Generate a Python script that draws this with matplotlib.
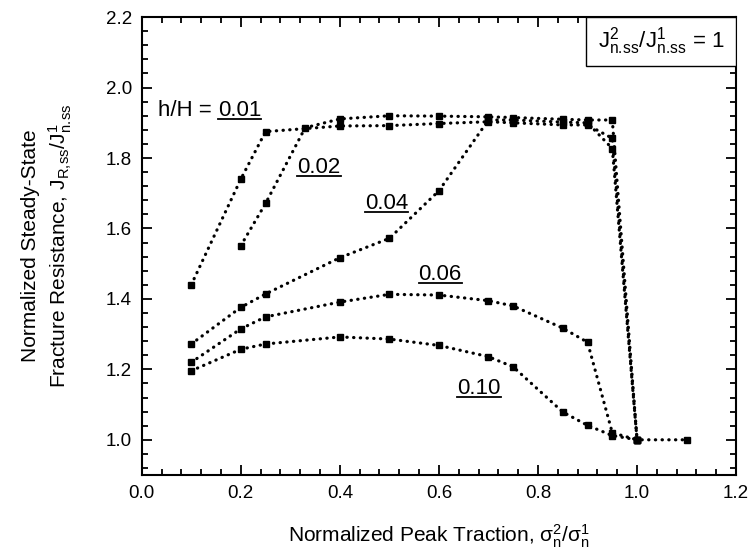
import numpy as np
import matplotlib
matplotlib.use("Agg")
import matplotlib.pyplot as plt
from matplotlib.patches import Rectangle
from matplotlib.lines import Line2D
from matplotlib.ticker import MultipleLocator

plt.rcParams['font.family'] = ['Liberation Sans', 'DejaVu Sans']
plt.rcParams['mathtext.fontset'] = 'custom'
plt.rcParams['mathtext.rm'] = 'Liberation Sans'
plt.rcParams['mathtext.it'] = 'Liberation Sans'
plt.rcParams['mathtext.sf'] = 'Liberation Sans'

# peak traction ratio, one list per h/H
x_001 = [0.1, 0.2, 0.25, 0.4, 0.5, 0.6, 0.7, 0.75, 0.85, 0.9, 0.95, 1.0]
y_001 = [1.44, 1.74, 1.875, 1.891, 1.892, 1.898, 1.903, 1.900, 1.894, 1.894, 1.856, 1.0]

x_002 = [0.2, 0.25, 0.33, 0.4, 0.5, 0.6, 0.7, 0.75, 0.85, 0.9, 0.95, 1.0]
y_002 = [1.551, 1.671, 1.886, 1.911, 1.920, 1.919, 1.917, 1.915, 1.910, 1.908, 1.908, 1.0]

x_004 = [0.1, 0.2, 0.25, 0.4, 0.5, 0.6, 0.7, 0.75, 0.85, 0.9, 0.95, 1.0]
y_004 = [1.272, 1.376, 1.414, 1.517, 1.572, 1.707, 1.908, 1.908, 1.902, 1.900, 1.827, 1.0]

x_006 = [0.1, 0.2, 0.25, 0.4, 0.5, 0.6, 0.7, 0.75, 0.85, 0.9, 0.95, 1.0]
y_006 = [1.220, 1.315, 1.349, 1.391, 1.413, 1.411, 1.395, 1.380, 1.317, 1.277, 1.020, 1.0]

x_010 = [0.1, 0.2, 0.25, 0.4, 0.5, 0.6, 0.7, 0.75, 0.85, 0.9, 0.95, 1.0, 1.1]
y_010 = [1.196, 1.257, 1.272, 1.292, 1.286, 1.268, 1.236, 1.207, 1.079, 1.041, 1.012, 1.0, 1.0]

series = [(x_001, y_001), (x_002, y_002), (x_004, y_004),
          (x_006, y_006), (x_010, y_010)]

# curve labels: prefix, underlined value, baseline anchor (data coords)
curve_labels = [("h/H = ", "0.01", 0.033, 1.919),
                ("", "0.02", 0.314, 1.757),
                ("", "0.04", 0.451, 1.655),
                ("", "0.06", 0.559, 1.454),
                ("", "0.10", 0.637, 1.131)]

fig = plt.figure(figsize=(7.55, 5.53), dpi=100)
ax = fig.add_axes([0.1877, 0.141, 0.7873, 0.828])

for xs, ys in series:
    ax.plot(xs, ys, color='black', lw=2.3, linestyle=(0, (0.1, 2.0)),
            dash_capstyle='round', marker='s', markersize=5,
            markerfacecolor='black', markeredgecolor='black')

ax.set_xlim(0.0, 1.2)
ax.set_ylim(0.9, 2.2)
ax.xaxis.set_major_locator(MultipleLocator(0.2))
ax.xaxis.set_minor_locator(MultipleLocator(0.04))
ax.yaxis.set_minor_locator(MultipleLocator(0.04))
ax.set_yticks([1.0, 1.2, 1.4, 1.6, 1.8, 2.0, 2.2])
ax.xaxis.set_major_formatter(plt.FormatStrFormatter('%.1f'))
ax.yaxis.set_major_formatter(plt.FormatStrFormatter('%.1f'))
ax.tick_params(which='both', direction='in', top=True, right=True,
               width=1.3, labelsize=13.5, pad=7)
ax.tick_params(which='major', length=7)
ax.tick_params(which='minor', length=4)
for sp in ax.spines.values():
    sp.set_linewidth(1.5)

ax.set_xlabel(r'Normalized Peak Traction, $\mathrm{σ}_{n}^{2}/\mathrm{σ}_{n}^{1}$',
              fontsize=15, labelpad=15)
ax.set_ylabel('Normalized Steady-State\n'
              r'Fracture Resistance, $\mathrm{J}_{R,\!ss}/\mathrm{J}^{1}_{n.\!ss}$',
              fontsize=15, labelpad=23, linespacing=1.3)

# ratio box, top right
ax.add_patch(Rectangle((0.748, 0.893), 0.252, 0.107, transform=ax.transAxes,
                       facecolor='white', edgecolor='black', lw=1.0, zorder=5))
ax.text(0.874, 0.947, r'$\mathrm{J}^{2}_{n.\!ss}/\mathrm{J}^{1}_{n.\!ss}$ = 1',
        transform=ax.transAxes, ha='center', va='center', fontsize=16, zorder=6)

fig.canvas.draw()
renderer = fig.canvas.get_renderer()
for prefix, val, lx, ly in curve_labels:
    x0 = ax.transData.transform((lx, ly))[0]
    if prefix:
        t1 = ax.text(lx, ly, prefix, fontsize=16, ha='left', va='baseline')
        x0 = t1.get_window_extent(renderer).x1
    xd = ax.transData.inverted().transform((x0, 0))[0]
    t2 = ax.text(xd, ly, val, fontsize=16, ha='left', va='baseline')
    b2 = t2.get_window_extent(renderer)
    yline = ax.transData.transform((lx, ly))[1] - 3
    fig.add_artist(Line2D([b2.x0, b2.x1], [yline, yline], transform=None,
                          color='black', lw=1.3))

fig.savefig('out.png', dpi=100)
